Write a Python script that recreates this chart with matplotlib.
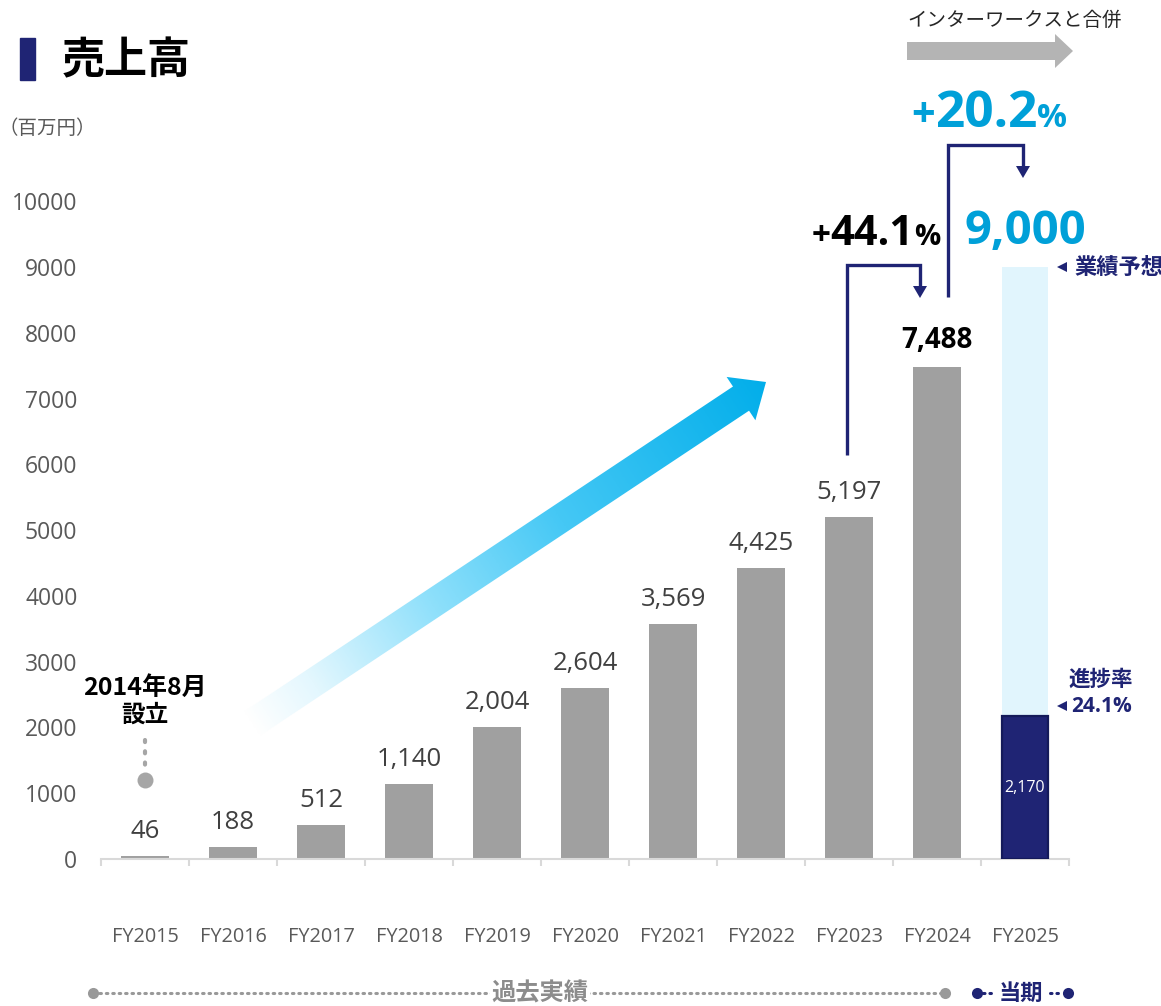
import numpy as np
import matplotlib
matplotlib.use("Agg")
import matplotlib.pyplot as plt
from matplotlib.patches import Polygon
from matplotlib.colors import LinearSegmentedColormap

# ---- data (百万円) ----
years = ["FY2015", "FY2016", "FY2017", "FY2018", "FY2019", "FY2020",
         "FY2021", "FY2022", "FY2023", "FY2024", "FY2025"]
sales = [46, 188, 512, 1140, 2004, 2604, 3569, 4425, 5197, 7488]
forecast_2025 = 9000
progress_2025 = 2170
growth_2024 = "44.1"
growth_2025 = "20.2"
progress_rate = "24.1%"
y_ticks = list(range(0, 10001, 1000))

JP = ["Noto Sans CJK JP", "DejaVu Sans"]
NUM = ["Open Sans", "Noto Sans CJK JP", "DejaVu Sans"]
NAVY = "#1f2474"
CYAN = "#00a0d8"
GRAY_BAR = "#a0a0a0"
LIGHT = "#e1f5fd"

W, H = 1161, 1006
fig = plt.figure(figsize=(W / 100, H / 100), dpi=100)
fig.patch.set_facecolor("white")

# main bar axes: y=0 at 859px, 65.77px per 1000
ax = fig.add_axes([101 / W, 147 / H, 968 / W, 855 / H])
ax.set_xlim(-0.5, 10.5)
ax.set_ylim(0, 13000)
for s in ("top", "right", "left"):
    ax.spines[s].set_visible(False)
ax.spines["bottom"].set_color("#d9d9d9")
ax.spines["bottom"].set_linewidth(1.5)

x = np.arange(len(years))
ax.bar(x[:-1], sales, width=0.55, color=GRAY_BAR, zorder=2)
ax.bar(x[-1], forecast_2025, width=0.52, color=LIGHT, zorder=1)
ax.bar(x[-1], progress_2025, width=0.52, color=NAVY, edgecolor="#141a5a",
       linewidth=1.6, zorder=3)

ax.set_yticks(y_ticks)
ax.set_yticklabels([str(v) for v in y_ticks], family=NUM, fontsize=16.5,
                   color="#595959")
ax.tick_params(axis="y", length=0, pad=17)

ax.set_xticks(x)
ax.set_xticklabels(years, family=NUM, fontsize=14.3, color="#595959")
ax.tick_params(axis="x", which="major", length=0, pad=49)
ax.set_xticks(np.arange(-0.5, 10.6, 1.0), minor=True)
ax.tick_params(axis="x", which="minor", length=5, width=1.5, color="#d9d9d9")

# value labels
for i, v in enumerate(sales[:-1]):
    ax.annotate(f"{v:,}", xy=(i, v), xytext=(0, 13), textcoords="offset points",
                ha="center", va="baseline", family=NUM, fontsize=18.5,
                color="#404040")
ax.annotate(f"{sales[-1]:,}", xy=(9, sales[-1]), xytext=(0, 13.5),
            textcoords="offset points", ha="center", va="baseline",
            family=NUM, fontsize=20, fontweight="bold", color="black")
ax.annotate(f"{forecast_2025:,}", xy=(10, forecast_2025), xytext=(0, 16.5),
            textcoords="offset points", ha="center", va="baseline",
            family=NUM, fontsize=34, fontweight="bold", color=CYAN)
ax.text(10, progress_2025 / 2, f"{progress_2025:,}", ha="center", va="center",
        family=NUM, fontsize=11.5, color="white", zorder=4)

# overlay in pixel coordinates for headings and callouts
ov = fig.add_axes([0, 0, 1, 1], zorder=5)
ov.set_xlim(0, W)
ov.set_ylim(H, 0)
ov.axis("off")
ov.patch.set_alpha(0)

# title
ov.add_patch(Polygon([(20, 38), (35, 38), (35, 80), (20, 80)], closed=True,
                     color=NAVY))
ov.text(62, 60, "売上高", family=JP, fontsize=31, fontweight="bold",
        color="black", va="center", ha="left")
ov.text(-2, 128, "（百万円）", family=JP, fontsize=14, color="#595959",
        va="center", ha="left")

# gradient growth arrow
T = np.array([250.0, 725.0])
P = np.array([766.0, 382.0])
u = (P - T) / np.linalg.norm(P - T)
n = np.array([u[1], -u[0]])
Hh = P - u * 30
hw, sw = 26, 14.5
pts = [T + n * sw, Hh + n * sw, Hh + n * hw, P, Hh - n * hw, Hh - n * sw,
       T - n * sw]
poly = Polygon(pts, closed=True, facecolor="none", edgecolor="none")
ov.add_patch(poly)
xs0, ys0 = min(p[0] for p in pts), min(p[1] for p in pts)
xs1, ys1 = max(p[0] for p in pts), max(p[1] for p in pts)
gx = np.linspace(xs0, xs1, 400)
gy = np.linspace(ys0, ys1, 300)
GX, GY = np.meshgrid(gx, gy)
L = np.linalg.norm(P - T)
tt = np.clip(((GX - T[0]) * u[0] + (GY - T[1]) * u[1]) / L, 0, 1)
cmap = LinearSegmentedColormap.from_list(
    "grow", [(0, "#ffffff"), (0.12, "#e3f7fe"), (0.35, "#8fe0fb"),
             (0.6, "#45c8f5"), (1.0, "#02aeea")])
im = ov.imshow(tt, cmap=cmap, vmin=0, vmax=1, extent=(xs0, xs1, ys0, ys1),
               origin="lower", interpolation="bilinear", aspect="auto")
im.set_clip_path(poly)
ov.set_xlim(0, W)
ov.set_ylim(H, 0)

# merger arrow
ov.add_patch(Polygon([(907, 42), (1055, 42), (1055, 34), (1073, 51),
                      (1055, 68), (1055, 60), (907, 60)], closed=True,
                     color="#b4b4b4", lw=0))
ov.text(1015, 20, "インターワークスと合併", family=JP, fontsize=14,
        color="#262626", ha="center", va="center")


def rich(xc, yb, pieces):
    r = fig.canvas.get_renderer()
    ts = [ov.text(0, yb, s, ha="left", va="baseline", **kw) for s, kw in pieces]
    ws = [t.get_window_extent(r).width for t in ts]
    start = xc - sum(ws) / 2
    for t, w in zip(ts, ws):
        t.set_x(start)
        start += w


big = dict(family=NUM, fontweight="bold")
rich(876, 245, [("+", dict(fontsize=24, color="black", **big)),
                (growth_2024, dict(fontsize=30, color="black", **big)),
                ("%", dict(fontsize=21, color="black", **big))])
rich(989, 127, [("+", dict(fontsize=30, color=CYAN, **big)),
                (growth_2025, dict(fontsize=37, color=CYAN, **big)),
                ("%", dict(fontsize=24, color=CYAN, **big))])

# growth brackets
for (x0, yb, yt, x1, tip) in [(847, 455, 265, 920, 298),
                              (948, 297, 145, 1023, 178)]:
    ov.plot([x0, x0, x1, x1], [yb, yt, yt, tip - 10], color=NAVY, lw=2.4,
            solid_joinstyle="miter", solid_capstyle="butt")
    ov.add_patch(Polygon([(x1 - 7, tip - 12), (x1 + 7, tip - 12), (x1, tip)],
                         closed=True, color=NAVY, lw=0))

# side notes
ov.plot([1062], [267], marker="<", ms=7, color=NAVY, mew=0)
ov.text(1074, 267, "業績予想", family=JP, fontsize=16, fontweight="bold",
        color=NAVY, va="center", ha="left")
ov.text(1101, 679, "進捗率", family=JP, fontsize=15.5, fontweight="bold",
        color=NAVY, va="center", ha="center")
ov.plot([1062], [706], marker="<", ms=7, color=NAVY, mew=0)
ov.text(1071, 706, progress_rate, family=NUM, fontsize=15,
        fontweight="bold", color=NAVY, va="center", ha="left")

# founding note
ov.text(145, 688, "2014年8月", family=JP, fontsize=18, fontweight="bold",
        color="black", ha="center", va="center")
ov.text(145, 715, "設立", family=JP, fontsize=17, fontweight="bold",
        color="black", ha="center", va="center")
ov.plot([145, 145], [740, 772], color="#a6a6a6", lw=3, ls=(0, (0.5, 2.2)),
        dash_capstyle="round")
ov.plot([145], [780], marker="o", ms=11.5, color="#a6a6a6", mew=0)

# period bar
ov.plot([93, 945], [993, 993], color="#999999", lw=2.2, ls=(0, (0.5, 1.6)),
        dash_capstyle="round")
ov.plot([93, 945], [993, 993], ls="none", marker="o", ms=8, color="#999999",
        mew=0)
ov.text(540, 993, "過去実績", family=JP, fontsize=17.5, fontweight="bold",
        color="#8c8c8c", ha="center", va="center",
        bbox=dict(facecolor="white", edgecolor="none", pad=1))
ov.plot([983, 993], [993, 993], color=NAVY, lw=2.2, ls=(0, (0.5, 1.6)),
        dash_capstyle="round")
ov.plot([1050, 1062], [993, 993], color=NAVY, lw=2.2, ls=(0, (0.5, 1.6)),
        dash_capstyle="round")
ov.plot([977, 1068], [993, 993], ls="none", marker="o", ms=8, color=NAVY,
        mew=0)
ov.text(1021, 993, "当期", family=JP, fontsize=16, fontweight="bold",
        color=NAVY, ha="center", va="center")

fig.savefig("out.png", dpi=100, facecolor="white")
